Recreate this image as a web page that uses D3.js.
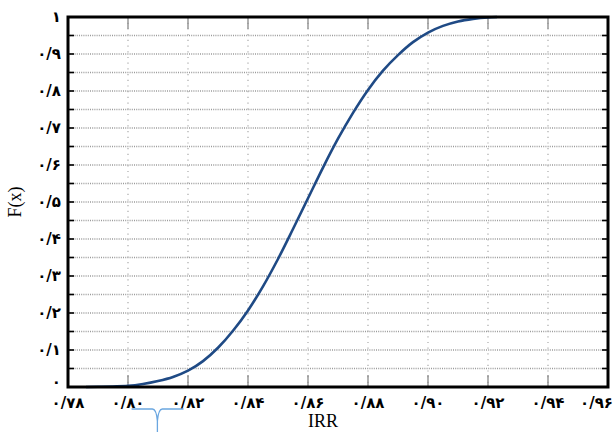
<!DOCTYPE html>
<html>
<head>
<meta charset="utf-8">
<script src="https://cdn.jsdelivr.net/npm/d3@7"></script>
<style>
  body { margin: 0; background: #fff; }
  svg { display: block; }
</style>
</head>
<body>
<div id="chart"></div>
<script>
// 값
const irr = [0.786, 0.79, 0.795, 0.80, 0.805, 0.81, 0.815, 0.82, 0.825, 0.83, 0.835, 0.84, 0.845, 0.85, 0.855, 0.86, 0.865, 0.87, 0.875, 0.88, 0.885, 0.89, 0.895, 0.90, 0.905, 0.91, 0.915, 0.92, 0.923];
const cdf = [0, 0.0006, 0.0015, 0.003, 0.008, 0.016, 0.027, 0.044, 0.07, 0.106, 0.152, 0.207, 0.272, 0.346, 0.427, 0.51, 0.593, 0.671, 0.741, 0.803, 0.855, 0.897, 0.932, 0.958, 0.976, 0.988, 0.995, 0.999, 1.0];

const xTicks = [0.78, 0.80, 0.82, 0.84, 0.86, 0.88, 0.90, 0.92, 0.94, 0.96];
const xTickLabels = ["۰/۷۸", "۰/۸۰", "۰/۸۲", "۰/۸۴", "۰/۸۶", "۰/۸۸", "۰/۹۰", "۰/۹۲", "۰/۹۴", "۰/۹۶"];
const yTicks = [0, 0.1, 0.2, 0.3, 0.4, 0.5, 0.6, 0.7, 0.8, 0.9, 1];
const yTickLabels = ["۰", "۰/۱", "۰/۲", "۰/۳", "۰/۴", "۰/۵", "۰/۶", "۰/۷", "۰/۸", "۰/۹", "۱"];
const yMinor = d3.range(0, 21).map(i => i * 0.05);

const width = 614, height = 432;
const m = {left: 68, right: 6, top: 17, bottom: 45};

const svg = d3.select("#chart").append("svg")
  .attr("width", width)
  .attr("height", height);

const x = d3.scaleLinear().domain([0.78, 0.96]).range([m.left, width - m.right]);
const y = d3.scaleLinear().domain([0, 1]).range([height - m.bottom, m.top]);

// 가로 격자 (0.05 간격)
svg.append("g").selectAll("line")
  .data(yMinor.filter(v => v > 0 && v < 1))
  .enter().append("line")
  .attr("x1", x(0.78)).attr("x2", x(0.96))
  .attr("y1", d => y(d)).attr("y2", d => y(d))
  .attr("stroke", "#9a9a9a")
  .attr("stroke-width", 1.4)
  .attr("stroke-dasharray", "1,1.2");

// 세로 격자
svg.append("g").selectAll("line")
  .data(xTicks.slice(1, -1))
  .enter().append("line")
  .attr("x1", d => x(d)).attr("x2", d => x(d))
  .attr("y1", y(1)).attr("y2", y(0))
  .attr("stroke", "#aaa")
  .attr("stroke-width", 1.2)
  .attr("stroke-dasharray", "1.2,4.5");

// 눈금 (위/아래, 회색)
const tickG = svg.append("g").attr("stroke", "#888").attr("stroke-width", 1.3);
xTicks.slice(1, -1).forEach(v => {
  tickG.append("line").attr("x1", x(v)).attr("x2", x(v)).attr("y1", y(1)).attr("y2", y(1) + 12);
  tickG.append("line").attr("x1", x(v)).attr("x2", x(v)).attr("y1", y(0)).attr("y2", y(0) - 12);
});
// 눈금 (왼쪽/오른쪽, 검정)
const tickY = svg.append("g").attr("stroke", "#000").attr("stroke-width", 1.6);
yMinor.filter(v => v > 0 && v < 1).forEach(v => {
  tickY.append("line").attr("x1", x(0.78)).attr("x2", x(0.78) + 6).attr("y1", y(v)).attr("y2", y(v));
  tickY.append("line").attr("x1", x(0.96)).attr("x2", x(0.96) - 6).attr("y1", y(v)).attr("y2", y(v));
});

// 곡선
const line = d3.line()
  .x((d, i) => x(irr[i]))
  .y(d => y(d))
  .curve(d3.curveMonotoneX);

svg.append("path")
  .datum(cdf)
  .attr("fill", "none")
  .attr("stroke", "#1f4a85")
  .attr("stroke-width", 2.6)
  .attr("d", line);

// 테두리
svg.append("rect")
  .attr("x", x(0.78)).attr("y", y(1))
  .attr("width", x(0.96) - x(0.78))
  .attr("height", y(0) - y(1))
  .attr("fill", "none")
  .attr("stroke", "#000")
  .attr("stroke-width", 3);

// 축 라벨
const fontFa = "'DejaVu Sans', sans-serif";
svg.append("g").selectAll("text")
  .data(xTicks)
  .enter().append("text")
  .attr("x", (d, i) => i === xTicks.length - 1 ? width - 1 : x(d))
  .attr("y", y(0) + 21)
  .attr("text-anchor", (d, i) => i === xTicks.length - 1 ? "end" : "middle")
  .attr("font-family", fontFa)
  .attr("font-weight", "bold")
  .attr("font-size", 15)
  .text((d, i) => xTickLabels[i]);

svg.append("g").selectAll("text")
  .data(yTicks)
  .enter().append("text")
  .attr("x", m.left - 7)
  .attr("y", d => d === 0 ? y(d) : y(d) + 5)
  .attr("text-anchor", "end")
  .attr("font-family", fontFa)
  .attr("font-weight", "bold")
  .attr("font-size", 15)
  .text((d, i) => yTickLabels[i]);

svg.append("text")
  .attr("x", x(0.865))
  .attr("y", 427)
  .attr("text-anchor", "middle")
  .attr("font-family", "'Liberation Serif', serif")
  .attr("font-size", 18)
  .text("IRR");

svg.append("text")
  .attr("transform", `translate(21,${y(0.5)}) rotate(-90)`)
  .attr("text-anchor", "middle")
  .attr("font-family", "'Liberation Serif', serif")
  .attr("font-size", 18)
  .text("F(x)");

// 아래 파란 괄호 표시
const bx = x(0.8012), bx2 = x(0.8185), bm = x(0.8098), by = 409;
svg.append("path")
  .attr("d", `M${bx},${by} L${bm - 5},${by} Q${bm - 1},${by} ${bm},${by + 12} L${bm},${height}` +
             ` M${bx2},${by} L${bm + 5},${by} Q${bm + 1},${by} ${bm},${by + 12}`)
  .attr("fill", "none")
  .attr("stroke", "#6aa6e0")
  .attr("stroke-width", 1.3);
</script>
</body>
</html>
